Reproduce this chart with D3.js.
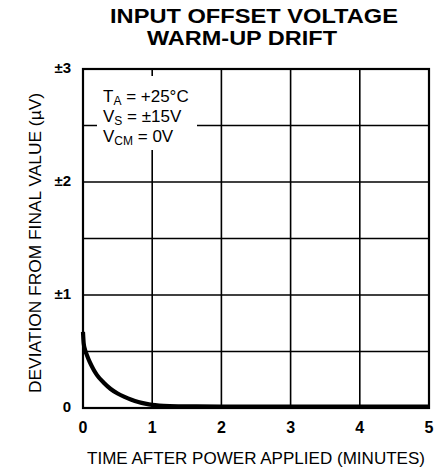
<!DOCTYPE html>
<html>
<head>
<meta charset="utf-8">
<script src="https://cdn.jsdelivr.net/npm/d3@7"></script>
<style>
  body { margin: 0; background: #fff; }
  svg { display: block; }
  text { font-family: "Liberation Sans", Arial, sans-serif; fill: #000; }
</style>
</head>
<body>
<div id="chart"></div>
<script>
// warm-up drift curve
var minutes = [0, 0.01, 0.03, 0.06, 0.1, 0.15, 0.2, 0.3, 0.4, 0.5, 0.6, 0.7, 0.8, 0.9, 1.0, 1.1, 1.25, 1.5, 2, 3, 4, 5];
var deviation = [0.66, 0.56, 0.5, 0.45, 0.39, 0.33, 0.28, 0.21, 0.155, 0.115, 0.085, 0.06, 0.04, 0.025, 0.014, 0.008, 0.004, 0.002, 0, 0, 0, 0];

var xTicks = [0, 1, 2, 3, 4, 5];
var yTicks = [0, 1, 2, 3];
var yTickLabels = ['0', '\u00b11', '\u00b12', '\u00b13'];
var yGrid = [0.5, 1, 1.5, 2, 2.5];
var titleLines = ['INPUT OFFSET VOLTAGE', 'WARM-UP DRIFT'];

window.onload = draw_chart;

function draw_chart() {
	var W = 448, H = 472;
	var margin = {top: 69, right: 19, bottom: 64, left: 83},
	    width = W - margin.left - margin.right,
	    height = H - margin.top - margin.bottom;

	var svg = d3.select('#chart').append('svg')
		.attr('width', W)
		.attr('height', H);

	var g = svg.append('g')
		.attr('transform', 'translate(' + margin.left + ',' + margin.top + ')');

	var x = d3.scaleLinear().domain([0, 5]).range([0, width]);
	var y = d3.scaleLinear().domain([0, 3]).range([height, 0]);

	// grid
	g.selectAll('.vgrid')
	    .data(xTicks.slice(1, -1))
	    .enter().append('line')
	    .attr('x1', d => x(d)).attr('x2', d => x(d))
	    .attr('y1', 0).attr('y2', height)
	    .attr('stroke', '#000').attr('stroke-width', 1.6);
	g.selectAll('.hgrid')
	    .data(yGrid)
	    .enter().append('line')
	    .attr('x1', 0).attr('x2', width)
	    .attr('y1', d => y(d)).attr('y2', d => y(d))
	    .attr('stroke', '#000').attr('stroke-width', 1.6);

	// white box behind the conditions text
	g.append('rect')
	    .attr('x', 14).attr('y', 7)
	    .attr('width', 100).attr('height', 74)
	    .attr('fill', '#fff');

	// frame
	g.append('rect')
	    .attr('x', 0).attr('y', 0)
	    .attr('width', width).attr('height', height)
	    .attr('fill', 'none')
	    .attr('stroke', '#000').attr('stroke-width', 2.2);

	// curve
	var line = d3.line()
	    .x((d, i) => x(minutes[i]))
	    .y(d => y(d) - 1.5)
	    .curve(d3.curveMonotoneX);
	g.append('path')
	    .datum(deviation)
	    .attr('d', line)
	    .attr('fill', 'none')
	    .attr('stroke', '#000')
	    .attr('stroke-width', 4.2);

	// tick labels
	g.selectAll('.xt')
	    .data(xTicks)
	    .enter().append('text')
	    .attr('x', d => x(d))
	    .attr('y', height + 25)
	    .attr('text-anchor', 'middle')
	    .style('font-size', '16px')
	    .style('font-weight', 'bold')
	    .text(d => d);
	g.selectAll('.yt')
	    .data(yTicks)
	    .enter().append('text')
	    .attr('x', -12)
	    .attr('y', d => y(d) + 4)
	    .attr('text-anchor', 'end')
	    .style('font-size', '15px')
	    .style('font-weight', 'bold')
	    .text((d, i) => yTickLabels[i]);

	// axis titles
	svg.append('text')
	    .attr('x', 256)
	    .attr('y', 464)
	    .attr('text-anchor', 'middle')
	    .attr('textLength', 338)
	    .attr('lengthAdjust', 'spacingAndGlyphs')
	    .style('font-size', '17px')
	    .text('TIME AFTER POWER APPLIED (MINUTES)');
	svg.append('text')
	    .attr('transform', 'translate(41,243) rotate(-90)')
	    .attr('text-anchor', 'middle')
	    .attr('textLength', 300)
	    .attr('lengthAdjust', 'spacingAndGlyphs')
	    .style('font-size', '17px')
	    .text('DEVIATION FROM FINAL VALUE (\u00b5V)');

	// title
	svg.selectAll('.title')
	    .data(titleLines)
	    .enter().append('text')
	    .attr('x', (d, i) => i === 0 ? 254 : 242)
	    .attr('y', (d, i) => 23 + i * 22)
	    .attr('text-anchor', 'middle')
	    .attr('textLength', (d, i) => i === 0 ? 288 : 190)
	    .attr('lengthAdjust', 'spacingAndGlyphs')
	    .style('font-size', '20px')
	    .style('font-weight', 'bold')
	    .text(d => d);

	// conditions
	var cond = [['T', 'A', ' = +25\u00b0C'], ['V', 'S', ' = \u00b115V'], ['V', 'CM', ' = 0V']];
	cond.forEach(function(c, i) {
		var t = g.append('text')
		    .attr('x', 20)
		    .attr('y', 33 + i * 20)
		    .style('font-size', '17px');
		t.append('tspan').text(c[0]);
		t.append('tspan').attr('dy', 3).style('font-size', '12px').text(c[1]);
		t.append('tspan').attr('dy', -3).text(c[2]);
	});
}
</script>
</body>
</html>
